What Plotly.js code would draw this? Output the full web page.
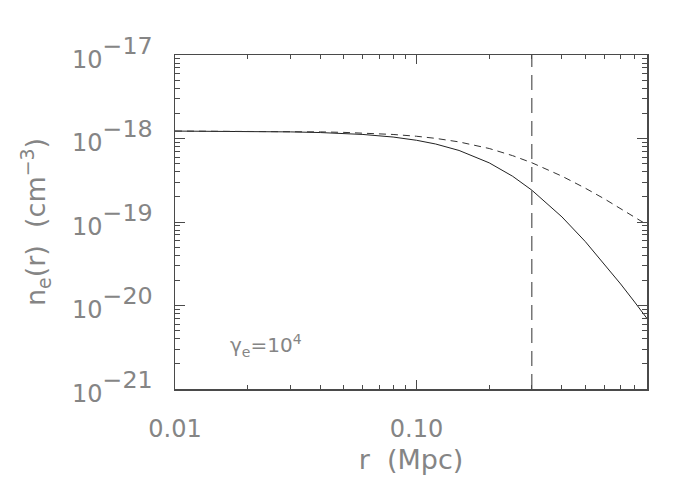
<!DOCTYPE html>
<html>
<head>
<meta charset="utf-8">
<script src="https://cdn.plot.ly/plotly-3.0.1.min.js"></script>
<style>html,body{margin:0;padding:0;background:#fff;}#chart{width:700px;height:500px;}</style>
</head>
<body>
<div id="chart"></div>
<script>
// radius (Mpc)
const radius = [0.01, 0.015, 0.02, 0.03, 0.04, 0.05, 0.06, 0.08, 0.1, 0.12, 0.15, 0.2, 0.25, 0.3, 0.4, 0.5, 0.6, 0.7, 0.8, 0.9];
// solid curve n_e(r) (cm^-3)
const densitySolid = [1.227e-18, 1.223e-18, 1.217e-18, 1.200e-18, 1.178e-18, 1.151e-18, 1.118e-18, 1.041e-18, 9.52e-19, 8.59e-19, 7.19e-19, 5.11e-19, 3.53e-19, 2.41e-19, 1.151e-19, 5.82e-20, 3.14e-20, 1.81e-20, 1.10e-20, 6.99e-21];
// dashed curve n_e(r) (cm^-3)
const densityDashed = [1.228e-18, 1.226e-18, 1.222e-18, 1.213e-18, 1.200e-18, 1.184e-18, 1.164e-18, 1.118e-18, 1.064e-18, 1.004e-18, 9.10e-19, 7.59e-19, 6.23e-19, 5.13e-19, 3.54e-19, 2.54e-19, 1.89e-19, 1.45e-19, 1.15e-19, 9.28e-20];
// vertical marker radius
const markerRadius = [0.3];
const yLimits = [1e-21, 1e-17];
const xLimits = [0.01, 0.9];

const xTickVals = [0.01, 0.1];
const xTickText = ['0.01', '0.10'];
const xMinorVals = [0.02,0.03,0.04,0.05,0.06,0.07,0.08,0.09,0.2,0.3,0.4,0.5,0.6,0.7,0.8,0.9];
const yTickVals = [1e-21, 1e-20, 1e-19, 1e-18, 1e-17];
const yExp = ['21', '20', '19', '18', '17'];
const yMinorVals = [];
[1e-21,1e-20,1e-19,1e-18].forEach(d => { for (let k = 2; k <= 9; k++) yMinorVals.push(k*d); });

const labelColor = '#858585';
const axisColor = '#4a4a4a';
const FONT = 'DejaVu Sans, Liberation Sans, sans-serif';
const yTickText = yExp.map(e => "<span style='font-size:24px'>10</span><sup>\u2212" + e + "</sup>");

const traces = [
  {x: radius, y: densitySolid, type: 'scatter', mode: 'lines', line: {color: '#222', width: 1}, hoverinfo: 'skip'},
  {x: radius, y: densityDashed, type: 'scatter', mode: 'lines', line: {color: '#333', width: 1, dash: '7px,5px'}, hoverinfo: 'skip'},
  {x: [markerRadius[0], markerRadius[0]], y: yLimits, type: 'scatter', mode: 'lines', line: {color: '#777', width: 1.5, dash: '15px,8px'}, hoverinfo: 'skip'}
];

const layout = {
  width: 700, height: 500,
  margin: {l: 175, r: 53, t: 55, b: 111},
  paper_bgcolor: '#fff', plot_bgcolor: '#fff',
  showlegend: false,
  font: {family: FONT, color: labelColor},
  xaxis: {
    type: 'log', range: [Math.log10(xLimits[0]), Math.log10(xLimits[1])],
    tickmode: 'array', tickvals: xTickVals, ticktext: xTickText,
    ticks: 'inside', ticklen: 9, tickcolor: axisColor, tickwidth: 1,
    minor: {tickmode: 'array', tickvals: xMinorVals, ticks: 'inside', ticklen: 4, tickcolor: axisColor, showgrid: false},
    showline: true, linecolor: axisColor, linewidth: 1.5, mirror: 'ticks',
    showgrid: false, zeroline: false,
    tickfont: {size: 24, color: labelColor, family: FONT},
    ticklabelstandoff: 18,
    title: {text: 'r  (Mpc)', font: {size: 27, color: labelColor, family: FONT}, standoff: 8}
  },
  yaxis: {
    type: 'log', range: [Math.log10(yLimits[0]), Math.log10(yLimits[1])],
    tickmode: 'array', tickvals: yTickVals, ticktext: yTickText,
    ticks: 'inside', ticklen: 10, tickcolor: axisColor, tickwidth: 1,
    minor: {tickmode: 'array', tickvals: yMinorVals, ticks: 'inside', ticklen: 5, tickcolor: axisColor, showgrid: false},
    showline: true, linecolor: axisColor, linewidth: 1.5, mirror: 'ticks',
    showgrid: false, zeroline: false,
    tickfont: {size: 34, color: labelColor, family: FONT},
    ticklabelstandoff: 14,
    ticklabelshift: 1,
    title: {text: 'n<sub>e</sub>(r)  (cm<sup>\u22123</sup>)', font: {size: 27, color: labelColor, family: FONT}, standoff: 18}
  },
  annotations: [{
    x: Math.log10(0.0165), y: Math.log10(3.3e-21), xref: 'x', yref: 'y',
    text: '\u03b3<sub>e</sub>=10<sup>4</sup>', showarrow: false, xanchor: 'left', yanchor: 'middle',
    font: {size: 20, color: labelColor, family: FONT}
  }]
};

Plotly.newPlot('chart', traces, layout, {staticPlot: true, displayModeBar: false});
</script>
</body>
</html>
